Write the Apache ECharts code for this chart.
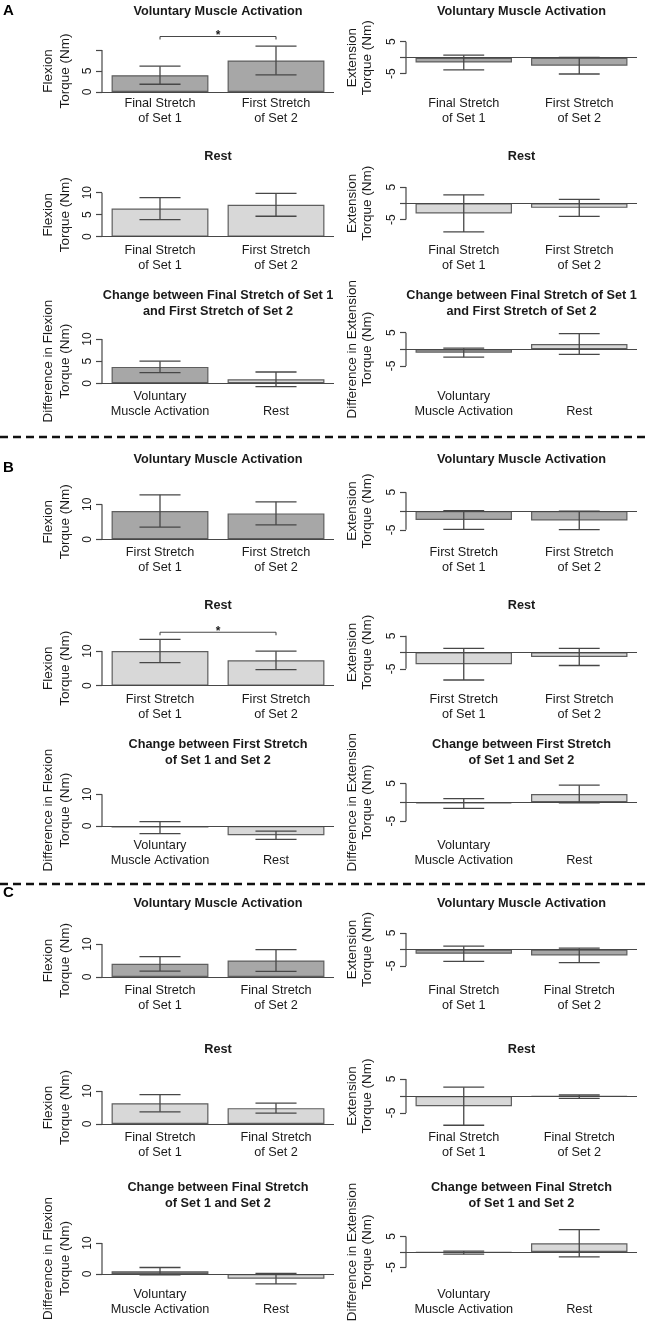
<!DOCTYPE html>
<html><head><meta charset="utf-8">
<script src="https://cdn.jsdelivr.net/npm/echarts@6/dist/echarts.min.js"></script>
<style>html,body{margin:0;padding:0;background:#fff}#c{width:647px;height:1339px}</style>
</head><body><div id="c"></div>
<script>
// ---------------- DATA ----------------
const catsA = ['Final Stretch\nof Set 1', 'First Stretch\nof Set 2'];
const catsB = ['First Stretch\nof Set 1', 'First Stretch\nof Set 2'];
const catsC = ['Final Stretch\nof Set 1', 'Final Stretch\nof Set 2'];
const catsChange = ['Voluntary\nMuscle Activation', 'Rest'];

const titleVol = 'Voluntary Muscle Activation';
const titleRest = 'Rest';
const titleChangeA = 'Change between Final Stretch of Set 1\nand First Stretch of Set 2';
const titleChangeB = 'Change between First Stretch\nof Set 1 and Set 2';
const titleChangeC = 'Change between Final Stretch\nof Set 1 and Set 2';

const nameFlex = ['Flexion', 'Torque (Nm)'];
const nameExt = ['Extension', 'Torque (Nm)'];
const nameDiffFlex = ['Difference in Flexion', 'Torque (Nm)'];
const nameDiffExt = ['Difference in Extension', 'Torque (Nm)'];

// tick positions and tick labels
const ticksFlex5 = [0, 5, 10];
const labelsFlexA1 = [0, 5];
const labelsFlex5 = [0, 5, 10];
const ticksFlex10 = [0, 10];
const labelsFlex10 = [0, 10];
const ticksExt = [-5, 0, 5];
const labelsExt = [-5, 5];

// Section A (means, error half-widths)
const A_volFlexMean = [4.0, 7.5],  A_volFlexErr = [2.15, 3.4];
const A_volExtMean  = [-1.5, -2.5], A_volExtErr = [2.3, 2.6];
const A_restFlexMean = [6.4, 7.25], A_restFlexErr = [2.5, 2.6];
const A_restExtMean  = [-3.1, -1.4], A_restExtErr = [5.7, 2.6];
const A_chgFlexMean = [3.7, 0.9],  A_chgFlexErr = [1.3, 1.65];
const A_chgExtMean  = [-1.0, 1.6], A_chgExtErr = [1.35, 3.1];
const A_volFlexSig = 13.2;

// Section B
const B_volFlexMean = [8.1, 7.4],  B_volFlexErr = [4.6, 3.3];
const B_volExtMean  = [-2.4, -2.5], B_volExtErr = [2.5, 2.45];
const B_restFlexMean = [10.0, 7.3], B_restFlexErr = [3.35, 2.65];
const B_restExtMean  = [-3.6, -1.4], B_restExtErr = [4.8, 2.6];
const B_chgFlexMean = [-0.5, -2.9], B_chgFlexErr = [1.9, 1.3];
const B_chgExtMean  = [-0.3, 2.2], B_chgExtErr = [1.3, 2.35];
const B_restFlexSig = 15.4;

// Section C
const C_volFlexMean = [4.0, 5.0],  C_volFlexErr = [2.2, 3.3];
const C_volExtMean  = [-1.3, -1.8], C_volExtErr = [2.3, 2.2];
const C_restFlexMean = [6.3, 4.8], C_restFlexErr = [2.6, 1.5];
const C_restExtMean  = [-3.0, -0.2], C_restExtErr = [5.6, 0.5];
const C_chgFlexMean = [0.9, -1.5], C_chgFlexErr = [1.2, 1.7];
const C_chgExtMean  = [-0.2, 2.8], C_chgExtErr = [0.5, 4.4];

// ---------------- STYLE / LAYOUT ----------------
const DARK = '#a7a7a7', LIGHT = '#d8d8d8', EDGE = '#5e5e5e', LINE = '#474747', TXT = '#1a1a1a';
const FONT = '"Liberation Sans", Arial, Helvetica, sans-serif';

const panels = [
  // Section A
  {side:'L', cats:catsA, mean:A_volFlexMean, err:A_volFlexErr, fill:[DARK,DARK], ticks:ticksFlex5, labels:labelsFlexA1, title:titleVol, name:nameFlex, zeroY:92, ppu:4.2, line2:118, titleY:11, sig:A_volFlexSig},
  {side:'R', cats:catsA, mean:A_volExtMean, err:A_volExtErr, fill:[DARK,DARK], ticks:ticksExt, labels:labelsExt, title:titleVol, name:nameExt, zeroY:57.7, ppu:3.2, line2:118, titleY:11},
  {side:'L', cats:catsA, mean:A_restFlexMean, err:A_restFlexErr, fill:[LIGHT,LIGHT], ticks:ticksFlex5, labels:labelsFlex5, title:titleRest, name:nameFlex, zeroY:236.7, ppu:4.4, line2:265, titleY:156.7},
  {side:'R', cats:catsA, mean:A_restExtMean, err:A_restExtErr, fill:[LIGHT,LIGHT], ticks:ticksExt, labels:labelsExt, title:titleRest, name:nameExt, zeroY:203.3, ppu:3.25, line2:265, titleY:156.7},
  {side:'L', cats:catsChange, mean:A_chgFlexMean, err:A_chgFlexErr, fill:[DARK,LIGHT], ticks:ticksFlex5, labels:labelsFlex5, title:titleChangeA, name:nameDiffFlex, zeroY:383.3, ppu:4.43, line2:411, titleY:295},
  {side:'R', cats:catsChange, mean:A_chgExtMean, err:A_chgExtErr, fill:[DARK,LIGHT], ticks:ticksExt, labels:labelsExt, title:titleChangeA, name:nameDiffExt, zeroY:349.3, ppu:3.33, line2:411, titleY:295},
  // Section B
  {side:'L', cats:catsB, mean:B_volFlexMean, err:B_volFlexErr, fill:[DARK,DARK], ticks:ticksFlex10, labels:labelsFlex10, title:titleVol, name:nameFlex, zeroY:539.3, ppu:3.5, line2:567.7, titleY:459.3},
  {side:'R', cats:catsB, mean:B_volExtMean, err:B_volExtErr, fill:[DARK,DARK], ticks:ticksExt, labels:labelsExt, title:titleVol, name:nameExt, zeroY:511, ppu:3.76, line2:567.7, titleY:459.3},
  {side:'L', cats:catsB, mean:B_restFlexMean, err:B_restFlexErr, fill:[LIGHT,LIGHT], ticks:ticksFlex10, labels:labelsFlex10, title:titleRest, name:nameFlex, zeroY:685.7, ppu:3.47, line2:714.3, titleY:605.7, sig:B_restFlexSig},
  {side:'R', cats:catsB, mean:B_restExtMean, err:B_restExtErr, fill:[LIGHT,LIGHT], ticks:ticksExt, labels:labelsExt, title:titleRest, name:nameExt, zeroY:652.3, ppu:3.3, line2:714.3, titleY:605.7},
  {side:'L', cats:catsChange, mean:B_chgFlexMean, err:B_chgFlexErr, fill:[DARK,LIGHT], ticks:ticksFlex10, labels:labelsFlex10, title:titleChangeB, name:nameDiffFlex, zeroY:826, ppu:3.17, line2:860.7, titleY:744},
  {side:'R', cats:catsChange, mean:B_chgExtMean, err:B_chgExtErr, fill:[DARK,LIGHT], ticks:ticksExt, labels:labelsExt, title:titleChangeB, name:nameDiffExt, zeroY:802.3, ppu:3.77, line2:860.7, titleY:744},
  // Section C
  {side:'L', cats:catsC, mean:C_volFlexMean, err:C_volFlexErr, fill:[DARK,DARK], ticks:ticksFlex10, labels:labelsFlex10, title:titleVol, name:nameFlex, zeroY:977, ppu:3.3, line2:1005, titleY:903},
  {side:'R', cats:catsC, mean:C_volExtMean, err:C_volExtErr, fill:[DARK,DARK], ticks:ticksExt, labels:labelsExt, title:titleVol, name:nameExt, zeroY:949.5, ppu:3.3, line2:1005, titleY:903},
  {side:'L', cats:catsC, mean:C_restFlexMean, err:C_restFlexErr, fill:[LIGHT,LIGHT], ticks:ticksFlex10, labels:labelsFlex10, title:titleRest, name:nameFlex, zeroY:1124, ppu:3.3, line2:1152, titleY:1049},
  {side:'R', cats:catsC, mean:C_restExtMean, err:C_restExtErr, fill:[LIGHT,LIGHT], ticks:ticksExt, labels:labelsExt, title:titleRest, name:nameExt, zeroY:1096, ppu:3.4, line2:1152, titleY:1049},
  {side:'L', cats:catsChange, mean:C_chgFlexMean, err:C_chgFlexErr, fill:[DARK,LIGHT], ticks:ticksFlex10, labels:labelsFlex10, title:titleChangeC, name:nameDiffFlex, zeroY:1274, ppu:3.1, line2:1309, titleY:1187},
  {side:'R', cats:catsChange, mean:C_chgExtMean, err:C_chgExtErr, fill:[DARK,LIGHT], ticks:ticksExt, labels:labelsExt, title:titleChangeC, name:nameDiffExt, zeroY:1252, ppu:3.1, line2:1309, titleY:1187}
];

const option = {animation:false, backgroundColor:'#fff', grid:[], xAxis:[], yAxis:[], series:[], graphic:[]};

panels.forEach((p, k) => {
  const gx = p.side === 'L' ? 102 : 406;
  const gw = p.side === 'L' ? 232 : 231;
  const lows = p.mean.map((m, i) => m - p.err[i]);
  const highs = p.mean.map((m, i) => m + p.err[i]);
  const ymin = Math.min(0, ...lows, ...p.ticks) - 0.6;
  const ymax = p.sig ? p.sig + 2.2 : Math.max(...highs, ...p.ticks) + 0.6;
  const top = p.zeroY - ymax * p.ppu;
  const height = (ymax - ymin) * p.ppu;
  const bottom = top + height;
  option.grid.push({left:gx, top:top, width:gw, height:height});
  option.xAxis.push({
    type:'category', gridIndex:k, data:p.cats,
    axisLine:{show:false}, axisTick:{show:false}, splitLine:{show:false},
    axisLabel:{interval:0, hideOverlap:false, margin:(p.line2 + 7.5) - bottom, verticalAlign:'bottom',
      lineHeight:15, fontSize:12.7, color:TXT, fontFamily:FONT}
  });
  option.yAxis.push({
    type:'value', gridIndex:k, min:ymin, max:ymax,
    splitLine:{show:false}, axisLine:{show:false},
    axisTick:{show:true, length:6, customValues:p.ticks, lineStyle:{color:LINE, width:1.2}},
    axisLabel:{customValues:p.labels, rotate:90, margin:8, fontSize:12, color:TXT, fontFamily:FONT}
  });
  // bars
  option.series.push({
    type:'bar', xAxisIndex:k, yAxisIndex:k, barWidth:'83.5%',
    data:p.mean.map((m, i) => ({value:m, itemStyle:{color:p.fill[i], borderColor:EDGE, borderWidth:1.2}})),
    markLine:{silent:true, symbol:'none', label:{show:false}, lineStyle:{color:LINE, width:1.2, type:'solid'}, data:[{yAxis:0}]}
  });
  // error bars
  option.series.push({
    type:'custom', xAxisIndex:k, yAxisIndex:k, z:5,
    data:p.mean.map((m, i) => [i, lows[i], highs[i]]),
    renderItem:(params, api) => {
      const x = api.value(0);
      const a = api.coord([x, api.value(2)]), b = api.coord([x, api.value(1)]);
      const w = api.size([1, 0])[0] * 0.177;
      const st = {stroke:LINE, lineWidth:1.3};
      return {type:'group', children:[
        {type:'line', shape:{x1:a[0], y1:a[1], x2:b[0], y2:b[1]}, style:st},
        {type:'line', shape:{x1:a[0]-w, y1:a[1], x2:a[0]+w, y2:a[1]}, style:st},
        {type:'line', shape:{x1:b[0]-w, y1:b[1], x2:b[0]+w, y2:b[1]}, style:st}
      ]};
    }
  });
  // R-style y axis line (only between the outer ticks)
  option.series.push({
    type:'custom', xAxisIndex:k, yAxisIndex:k, z:5,
    data:[[0, Math.min(...p.ticks), Math.max(...p.ticks)]],
    renderItem:(params, api) => {
      const cs = params.coordSys;
      const y1 = api.coord([0, api.value(1)])[1], y2 = api.coord([0, api.value(2)])[1];
      return {type:'line', shape:{x1:cs.x, y1:y1, x2:cs.x, y2:y2}, style:{stroke:LINE, lineWidth:1.2}};
    }
  });
  // significance bracket
  if (p.sig) {
    option.series.push({
      type:'custom', xAxisIndex:k, yAxisIndex:k, z:5,
      data:[[0, p.sig]],
      renderItem:(params, api) => {
        const a = api.coord([0, api.value(1)]), b = api.coord([1, api.value(1)]);
        const st = {stroke:LINE, lineWidth:1.1};
        return {type:'group', children:[
          {type:'line', shape:{x1:a[0], y1:a[1], x2:b[0], y2:b[1]}, style:st},
          {type:'line', shape:{x1:a[0], y1:a[1], x2:a[0], y2:a[1]+3}, style:st},
          {type:'line', shape:{x1:b[0], y1:b[1], x2:b[0], y2:b[1]+3}, style:st},
          {type:'text', style:{text:'*', x:(a[0]+b[0])/2, y:a[1]-0.5, align:'center', verticalAlign:'middle',
            fontSize:12, fontWeight:'bold', fill:TXT, fontFamily:FONT}}
        ]};
      }
    });
  }
  // title
  const cx = gx + gw / 2;
  p.title.split('\n').forEach((line, i) => {
    option.graphic.push({type:'text', x:cx, y:p.titleY + i * 16.5, silent:true,
      style:{text:line, align:'center', verticalAlign:'middle', fontSize:12.7, fontWeight:'bold', fill:TXT, fontFamily:FONT}});
  });
  // y axis name (two rotated lines)
  const yA = p.zeroY - Math.max(...p.ticks) * p.ppu, yB = p.zeroY - Math.min(...p.ticks) * p.ppu;
  const ny = (yA + yB) / 2;
  const nx = p.side === 'L' ? [48, 65] : [352, 367.5];
  p.name.forEach((line, i) => {
    option.graphic.push({type:'text', x:nx[i], y:ny, rotation:Math.PI / 2, silent:true,
      style:{text:line, align:'center', verticalAlign:'middle', fontSize:13.5, fill:TXT, fontFamily:FONT}});
  });
});

// panel letters
[['A', 11], ['B', 468], ['C', 893]].forEach(([t, y]) => {
  option.graphic.push({type:'text', x:3, y:y, silent:true,
    style:{text:t, align:'left', verticalAlign:'middle', fontSize:15, fontWeight:'bold', fill:'#000', fontFamily:FONT}});
});
// dashed separators
[437, 884].forEach(y => {
  option.graphic.push({type:'line', silent:true, shape:{x1:0, y1:y, x2:647, y2:y},
    style:{stroke:'#111', lineWidth:2.6, lineDash:[8, 5]}});
});

const chart = echarts.init(document.getElementById('c'), null, {renderer:'canvas'});
chart.setOption(option);
</script>
</body></html>
